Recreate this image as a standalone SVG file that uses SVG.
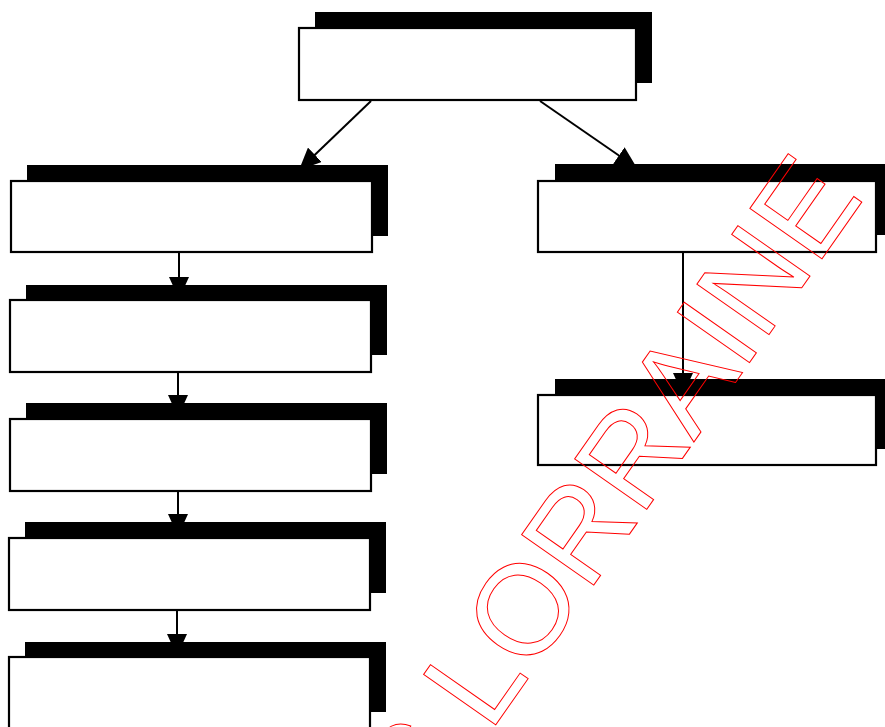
<svg xmlns="http://www.w3.org/2000/svg" width="885" height="727" viewBox="0 0 885 727">
  <style>
    .shadow { fill: #000000; }
    .box { fill: #ffffff; stroke: #000000; stroke-width: 2.2; }
    .conn { fill: none; stroke: #000000; stroke-width: 2; }
    .wm { font-family: "Liberation Sans", Arial, sans-serif; font-size: 128px; fill: none; stroke: #ff0000; stroke-width: 1; }
  </style>
  <defs>
    <marker id="arrow" markerUnits="userSpaceOnUse" markerWidth="22" markerHeight="20" refX="22" refY="10" orient="auto" viewBox="0 0 22 20">
      <path d="M0,0 L22,10 L0,20 Z" fill="#000000"/>
    </marker>
  </defs>
  <rect x="0" y="0" width="885" height="727" fill="#ffffff"/>

  <g id="connectors">
    <line class="conn" x1="371" y1="101" x2="299" y2="170" marker-end="url(#arrow)"/>
    <line class="conn" x1="540" y1="101" x2="637" y2="168" marker-end="url(#arrow)"/>
    <line class="conn" x1="179" y1="253" x2="179" y2="299" marker-end="url(#arrow)"/>
    <line class="conn" x1="178" y1="372" x2="178" y2="417" marker-end="url(#arrow)"/>
    <line class="conn" x1="178" y1="491" x2="178" y2="536" marker-end="url(#arrow)"/>
    <line class="conn" x1="177" y1="610" x2="177" y2="656" marker-end="url(#arrow)"/>
    <line class="conn" x1="683" y1="252" x2="683" y2="395" marker-end="url(#arrow)"/>
  </g>

  <g id="node-top">
    <rect class="shadow" x="315" y="12" width="337" height="71"/>
    <rect class="box" x="299" y="28" width="337" height="72"/>
  </g>
  <g id="node-left-1">
    <rect class="shadow" x="27" y="165" width="361" height="71"/>
    <rect class="box" x="11" y="181" width="361" height="71"/>
  </g>
  <g id="node-left-2">
    <rect class="shadow" x="26" y="285" width="361" height="70"/>
    <rect class="box" x="10" y="300" width="361" height="72"/>
  </g>
  <g id="node-left-3">
    <rect class="shadow" x="26" y="403" width="361" height="71"/>
    <rect class="box" x="10" y="419" width="361" height="72"/>
  </g>
  <g id="node-left-4">
    <rect class="shadow" x="25" y="522" width="361" height="71"/>
    <rect class="box" x="9" y="538" width="361" height="72"/>
  </g>
  <g id="node-left-5">
    <rect class="shadow" x="25" y="642" width="361" height="70"/>
    <rect class="box" x="9" y="657" width="361" height="90"/>
  </g>
  <g id="node-right-1">
    <rect class="shadow" x="555" y="164" width="340" height="71"/>
    <rect class="box" x="538" y="181" width="338" height="71"/>
  </g>
  <g id="node-right-2">
    <rect class="shadow" x="555" y="379" width="340" height="70"/>
    <rect class="box" x="538" y="395" width="338" height="70"/>
  </g>

  <g id="watermark" transform="translate(489.7,733.6) rotate(-55)">
    <text class="wm" x="-31" y="0" text-anchor="end">S</text>
    <text class="wm" x="0" y="0">LORRAINE</text>
  </g>
</svg>
